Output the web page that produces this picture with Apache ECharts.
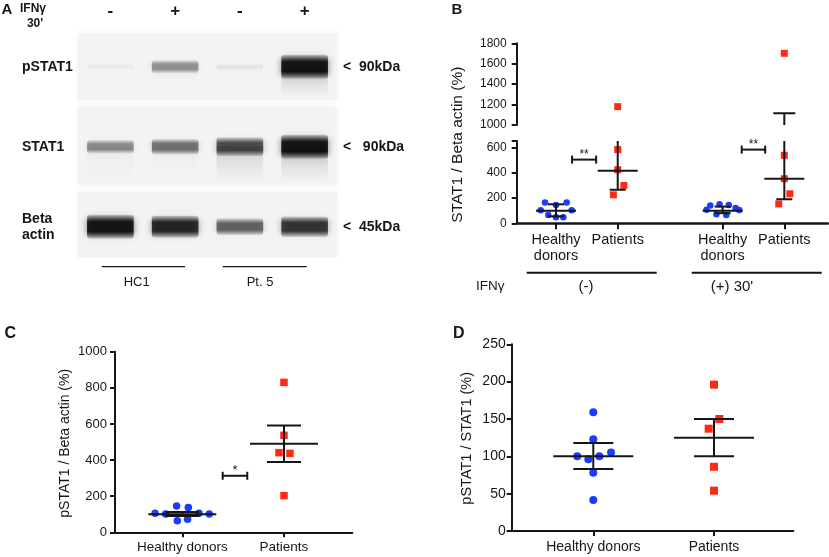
<!DOCTYPE html>
<html><head><meta charset="utf-8">
<script src="https://cdn.jsdelivr.net/npm/echarts@6/dist/echarts.min.js"></script>
<style>html,body{margin:0;padding:0;background:#fff}#c{width:829px;height:557px}</style>
</head><body><div id="c"></div>
<script>
// ================= DATA =================
// Panel A – western blot (relative band intensities)
const laneTreatment = ['-', '+', '-', '+'];
const blotRows = ['pSTAT1', 'STAT1', 'Beta\nactin'];
const blotSizes = ['<  90kDa', '<   90kDa', '<  45kDa'];
const pSTAT1Band = [0.04, 0.42, 0.07, 1.0];
const pSTAT1Smear = [0.0, 0.04, 0.02, 0.4];
const stat1Band = [0.45, 0.55, 0.72, 1.0];
const stat1Smear = [0.08, 0.06, 0.3, 0.4];
const actinBand = [1.0, 0.9, 0.62, 0.82];
const actinSmear = [0, 0, 0, 0];

// Panel B – STAT1 / Beta actin (%)
const bGroupPos = [1, 2, 3.7, 4.7];
const bGroupLabels = ['Healthy\ndonors', 'Patients', 'Healthy\ndonors', 'Patients'];
const bHealthyNegJitter = [-0.178, 0, 0.173, -0.248, 0.254, -0.125, 0, 0.118];
const bHealthyNegVals = [164, 145, 164, 103, 103, 66, 48, 48];
const bPatientNegJitter = [0, 0, 0, 0.1, -0.07];
const bPatientNegVals = [1180, 582, 423, 299, 225];
const bHealthyPosJitter = [-0.2, -0.05, 0.1, 0.21, -0.26, 0.27, -0.1, 0.06];
const bHealthyPosVals = [140, 150, 145, 120, 108, 105, 72, 65];
const bPatientPosJitter = [0, 0, 0, 0.09, -0.09];
const bPatientPosVals = [1702, 537, 352, 233, 153];
// [centre line, lower whisker, upper whisker]
const bHealthyNegBar = [100, 55, 150];
const bPatientNegBar = [415, 265, 700];
const bHealthyPosBar = [100, 80, 132];
const bPatientPosBar = [352, 190, 1115];
const bSigStarts = [1.26, 4.01];
const bSigEnds = [1.65, 4.39];
const bSigLevels = [503, 582];
const bSigMarks = ['**', '**'];

// Panel C – pSTAT1 / Beta actin (%)
const cGroupPos = [1, 2];
const cGroupLabels = ['Healthy donors', 'Patients'];
const cHealthyJitter = [-0.268, -0.164, -0.056, 0.059, -0.049, 0.052, 0.164, 0.265];
const cHealthyVals = [105, 101, 146, 138, 64, 72, 105, 101];
const cPatientJitter = [0, 0, -0.049, 0.059, 0];
const cPatientVals = [830, 537, 441, 437, 203];
const cHealthyBar = [100, 90, 112];
const cPatientBar = [490, 389, 592];
const cSigStarts = [1.397];
const cSigEnds = [1.639];
const cSigLevels = [313];
const cSigMarks = ['*'];

// Panel D – pSTAT1 / STAT1 (%)
const dGroupPos = [1, 2];
const dGroupLabels = ['Healthy donors', 'Patients'];
const dHealthyJitter = [0, 0, -0.133, -0.041, 0.05, 0.147, 0, 0];
const dHealthyVals = [159, 123, 100, 96, 100, 105, 78, 41.5];
const dPatientJitter = [0, 0.044, -0.044, 0, 0];
const dPatientVals = [196, 150, 137, 86, 54];
const dHealthyBar = [100, 83, 118];
const dPatientBar = [125, 100, 150];

// ================= CHART =================
const FONT = '"Liberation Sans", Arial, Helvetica, sans-serif';
const BLUE = '#1a3cff', RED = '#ff2a14', INK = '#161616';

const chart = echarts.init(document.getElementById('c'), null, {renderer: 'canvas'});

function pts(center, jitter, vals, filt) {
  const out = [];
  vals.forEach((v, i) => { if (!filt || filt(v)) out.push([center + jitter[i], v]); });
  return out;
}
function scatter(xi, yi, data, symbol, size, color) {
  return {type: 'scatter', xAxisIndex: xi, yAxisIndex: yi, data, symbol, symbolSize: size,
    itemStyle: {color, opacity: 1}, z: 3, silent: true, animation: false};
}
function errorBars(xi, yi, items, meanHalf, capHalf, yMin, yMax) {
  return {type: 'custom', xAxisIndex: xi, yAxisIndex: yi, z: 6, silent: true, clip: false, animation: false,
    data: items,
    renderItem(params, api) {
      const x = api.value(0), c = api.value(1), lo = api.value(2), hi = api.value(3);
      const clamp = v => Math.max(yMin, Math.min(yMax, v));
      const st = {stroke: INK, lineWidth: 2};
      const px = api.coord([x, yMin])[0];
      const ch = [];
      if (hi >= yMin && lo <= yMax) {
        const a = api.coord([x, clamp(lo)]), b = api.coord([x, clamp(hi)]);
        ch.push({type: 'line', shape: {x1: px, y1: a[1], x2: px, y2: b[1]}, style: st});
      }
      [lo, hi].forEach(v => {
        if (v >= yMin && v <= yMax) {
          const p = api.coord([x, v]);
          ch.push({type: 'line', shape: {x1: px - capHalf, y1: p[1], x2: px + capHalf, y2: p[1]}, style: st});
        }
      });
      if (c >= yMin && c <= yMax) {
        const p = api.coord([x, c]);
        ch.push({type: 'line', shape: {x1: px - meanHalf, y1: p[1], x2: px + meanHalf, y2: p[1]}, style: st});
      }
      return {type: 'group', children: ch};
    }};
}
function sigBrackets(xi, yi, starts, ends, levels, marks, fs) {
  return {type: 'custom', xAxisIndex: xi, yAxisIndex: yi, z: 6, silent: true, clip: false, animation: false,
    data: starts.map((s, i) => [s, ends[i], levels[i], i]),
    renderItem(params, api) {
      const a = api.coord([api.value(0), api.value(2)]);
      const b = api.coord([api.value(1), api.value(2)]);
      const st = {stroke: INK, lineWidth: 2};
      return {type: 'group', children: [
        {type: 'line', shape: {x1: a[0], y1: a[1], x2: b[0], y2: b[1]}, style: st},
        {type: 'line', shape: {x1: a[0], y1: a[1] - 4, x2: a[0], y2: a[1] + 4}, style: st},
        {type: 'line', shape: {x1: b[0], y1: b[1] - 4, x2: b[0], y2: b[1] + 4}, style: st},
        {type: 'text', x: (a[0] + b[0]) / 2, y: a[1] - 5, style: {text: marks[api.value(3)],
          font: `${fs}px ${FONT}`, fill: INK, align: 'center', verticalAlign: 'middle'}}
      ]};
    }};
}

// Blot bands
const bandData = [];
[[pSTAT1Band, pSTAT1Smear], [stat1Band, stat1Smear], [actinBand, actinSmear]].forEach(([b, s], r) =>
  b.forEach((v, l) => bandData.push([l, r, v, s[l]])));

const bandSeries = {
  type: 'custom', xAxisIndex: 0, yAxisIndex: 0, z: 2, silent: true, clip: false, animation: false,
  data: bandData,
  renderItem(params, api) {
    const lane = api.value(0), row = api.value(1), v = api.value(2), s = api.value(3);
    const c = api.coord([lane, row]);
    const w = api.size([1, 0])[0] * 0.72;
    const h = 5 + 19 * v;
    const ch = [];
    if (s > 0) {
      ch.push({type: 'rect', shape: {x: c[0] - w / 2, y: c[1], width: w, height: row === 0 ? 30 : 36},
        style: {fill: {type: 'linear', x: 0, y: 0, x2: 0, y2: 1, colorStops: [
          {offset: 0, color: `rgba(0,0,0,${0.4 * s})`}, {offset: 1, color: 'rgba(0,0,0,0)'}]},
          shadowBlur: 8, shadowColor: `rgba(0,0,0,${0.25 * s})`}});
    }
    ch.push({type: 'rect', shape: {x: c[0] - w / 2, y: c[1] - h / 2, width: w, height: h, r: 3},
      style: {fill: {type: 'linear', x: 0, y: 0, x2: 0, y2: 1, colorStops: [
        {offset: 0, color: `rgba(0,0,0,${0.15 * v})`},
        {offset: 0.3, color: `rgba(0,0,0,${0.85 * v})`},
        {offset: 0.7, color: `rgba(0,0,0,${0.85 * v})`},
        {offset: 1, color: `rgba(0,0,0,${0.15 * v})`}]},
        shadowBlur: 7, shadowColor: `rgba(0,0,0,${0.55 * v})`}});
    return {type: 'group', children: ch};
  }
};

const plainNum = v => String(v);
const tickLab = (size, margin) => ({fontFamily: FONT, fontSize: size, color: INK, margin, formatter: plainNum});
const axLine = {show: true, lineStyle: {color: INK, width: 2}};
const axTick = {show: true, length: 5, inside: false, lineStyle: {color: INK, width: 2}};
function findLabel(pos, labels) {
  return v => { const i = pos.findIndex(p => Math.abs(p - v) < 1e-6); return i >= 0 ? labels[i] : ''; };
}

const option = {
  animation: false,
  backgroundColor: '#fff',
  textStyle: {fontFamily: FONT},
  grid: [
    {left: 78, top: 26.7, width: 259, height: 240, outerBoundsMode: 'none'},
    {left: 516.7, top: 43.3, width: 311.3, height: 81.7, outerBoundsMode: 'none'},
    {left: 516.7, top: 141, width: 311.3, height: 82.3, outerBoundsMode: 'none'},
    {left: 115, top: 351.7, width: 237.3, height: 180.6, outerBoundsMode: 'none'},
    {left: 511.7, top: 344.3, width: 281.6, height: 186.7, outerBoundsMode: 'none'}
  ],
  xAxis: [
    {gridIndex: 0, type: 'category', position: 'top', data: laneTreatment, axisLine: {show: false},
      axisTick: {show: false}, splitLine: {show: false},
      axisLabel: {fontFamily: FONT, fontSize: 17, fontWeight: 'bold', color: INK, margin: 15, verticalAlign: 'middle'}},
    {gridIndex: 1, type: 'value', min: 0.363, max: 5.408, show: false},
    {gridIndex: 2, type: 'value', min: 0.363, max: 5.408, splitLine: {show: false},
      axisLine: {show: true, onZero: false, lineStyle: {color: INK, width: 2.5}},
      axisTick: {show: true, length: 6, lineStyle: {color: INK, width: 2}, customValues: bGroupPos},
      axisLabel: {fontFamily: FONT, fontSize: 14.5, color: INK, margin: 9, lineHeight: 16, customValues: bGroupPos, formatter: findLabel(bGroupPos, bGroupLabels)}},
    {gridIndex: 3, type: 'value', min: 0.338, max: 2.672, splitLine: {show: false},
      axisLine: {show: true, onZero: false, lineStyle: {color: INK, width: 2}},
      axisTick: {show: true, length: 5, lineStyle: {color: INK, width: 2}, customValues: cGroupPos},
      axisLabel: {fontFamily: FONT, fontSize: 13.5, color: INK, margin: 8, customValues: cGroupPos, formatter: findLabel(cGroupPos, cGroupLabels)}},
    {gridIndex: 4, type: 'value', min: 0.324, max: 2.657, splitLine: {show: false},
      axisLine: {show: true, onZero: false, lineStyle: {color: INK, width: 2}},
      axisTick: {show: true, length: 5, lineStyle: {color: INK, width: 2}, customValues: dGroupPos},
      axisLabel: {fontFamily: FONT, fontSize: 14, color: INK, margin: 9, customValues: dGroupPos, formatter: findLabel(dGroupPos, dGroupLabels)}}
  ],
  yAxis: [
    {gridIndex: 0, type: 'value', min: -0.5, max: 2.5, inverse: true, axisLine: {show: false},
      axisTick: {show: false}, splitLine: {show: false},
      axisLabel: {fontFamily: FONT, fontSize: 14, fontWeight: 'bold', color: INK, align: 'left', margin: 56,
        lineHeight: 16, customValues: [0, 1, 2], formatter: findLabel([0, 1, 2], blotRows)}},
    {gridIndex: 0, type: 'value', position: 'right', min: -0.5, max: 2.5, inverse: true, axisLine: {show: false},
      axisTick: {show: false}, splitLine: {show: false},
      axisLabel: {fontFamily: FONT, fontSize: 14, fontWeight: 'bold', color: INK, align: 'left', margin: 6,
        customValues: [0, 1, 2], formatter: findLabel([0, 1, 2], blotSizes)}},
    {gridIndex: 1, type: 'value', min: 1000, max: 1800, interval: 200, splitLine: {show: false},
      axisLine: axLine, axisTick: axTick, axisLabel: tickLab(12, 10)},
    {gridIndex: 2, type: 'value', min: 0, max: 650, interval: 200, splitLine: {show: false},
      axisLine: axLine, axisTick: axTick,
      axisLabel: {...tickLab(12, 10), formatter: v => (v % 200 === 0 ? String(v) : '')}},
    {gridIndex: 3, type: 'value', min: 0, max: 1000, interval: 200, splitLine: {show: false},
      axisLine: axLine, axisTick: axTick, axisLabel: tickLab(13, 8)},
    {gridIndex: 4, type: 'value', min: 0, max: 250, interval: 50, splitLine: {show: false},
      axisLine: axLine, axisTick: axTick, axisLabel: tickLab(14, 6)}
  ],
  series: [
    bandSeries,
    // Panel B lower segment
    scatter(2, 3, pts(bGroupPos[0], bHealthyNegJitter, bHealthyNegVals), 'circle', 6.5, BLUE),
    scatter(2, 3, pts(bGroupPos[1], bPatientNegJitter, bPatientNegVals, v => v <= 650), 'rect', 7, RED),
    scatter(2, 3, pts(bGroupPos[2], bHealthyPosJitter, bHealthyPosVals), 'circle', 6.5, BLUE),
    scatter(2, 3, pts(bGroupPos[3], bPatientPosJitter, bPatientPosVals, v => v <= 650), 'rect', 7, RED),
    // Panel B upper segment
    scatter(1, 2, pts(bGroupPos[1], bPatientNegJitter, bPatientNegVals, v => v >= 1000), 'rect', 7, RED),
    scatter(1, 2, pts(bGroupPos[3], bPatientPosJitter, bPatientPosVals, v => v >= 1000), 'rect', 7, RED),
    errorBars(2, 3, [[bGroupPos[0], ...bHealthyNegBar], [bGroupPos[1], ...bPatientNegBar],
      [bGroupPos[2], ...bHealthyPosBar], [bGroupPos[3], ...bPatientPosBar]], 20, 8, 0, 650),
    errorBars(1, 2, [[bGroupPos[1], ...bPatientNegBar], [bGroupPos[3], ...bPatientPosBar]], 20, 11, 1000, 1800),
    sigBrackets(2, 3, bSigStarts, bSigEnds, bSigLevels, bSigMarks, 12),
    // Panel C
    scatter(3, 4, pts(cGroupPos[0], cHealthyJitter, cHealthyVals), 'circle', 7.5, BLUE),
    scatter(3, 4, pts(cGroupPos[1], cPatientJitter, cPatientVals), 'rect', 7.5, RED),
    errorBars(3, 4, [[cGroupPos[0], ...cHealthyBar], [cGroupPos[1], ...cPatientBar]], 34, 17, 0, 1000),
    sigBrackets(3, 4, cSigStarts, cSigEnds, cSigLevels, cSigMarks, 13),
    // Panel D
    scatter(4, 5, pts(dGroupPos[0], dHealthyJitter, dHealthyVals), 'circle', 8, BLUE),
    scatter(4, 5, pts(dGroupPos[1], dPatientJitter, dPatientVals), 'rect', 8, RED),
    errorBars(4, 5, [[dGroupPos[0], ...dHealthyBar], [dGroupPos[1], ...dPatientBar]], 40, 20, 0, 250)
  ],
  graphic: {elements: [
    // blot membrane backgrounds
    {type: 'rect', z: -10, shape: {x: 78, y: 33, width: 259, height: 67}, style: {fill: '#f3f3f3', shadowBlur: 8, shadowColor: '#f3f3f3'}},
    {type: 'rect', z: -10, shape: {x: 78, y: 107, width: 259, height: 78}, style: {fill: '#f3f3f3', shadowBlur: 8, shadowColor: '#f3f3f3'}},
    {type: 'rect', z: -10, shape: {x: 78, y: 192, width: 259, height: 65}, style: {fill: '#f3f3f3', shadowBlur: 8, shadowColor: '#f3f3f3'}},
    // panel letters
    {type: 'text', x: 1.5, y: 10, style: {text: 'A', font: `bold 15px ${FONT}`, fill: INK, verticalAlign: 'middle'}},
    {type: 'text', x: 451.5, y: 10, style: {text: 'B', font: `bold 15px ${FONT}`, fill: INK, verticalAlign: 'middle'}},
    {type: 'text', x: 4.5, y: 334, style: {text: 'C', font: `bold 16px ${FONT}`, fill: INK, verticalAlign: 'middle'}},
    {type: 'text', x: 453, y: 334, style: {text: 'D', font: `bold 16px ${FONT}`, fill: INK, verticalAlign: 'middle'}},
    // panel A header
    {type: 'text', x: 33, y: 8.5, style: {text: 'IFNγ', font: `bold 12px ${FONT}`, fill: INK, align: 'center', verticalAlign: 'middle'}},
    {type: 'text', x: 35, y: 23.5, style: {text: "30'", font: `bold 12px ${FONT}`, fill: INK, align: 'center', verticalAlign: 'middle'}},
    {type: 'line', shape: {x1: 101.7, y1: 266.7, x2: 185, y2: 266.7}, style: {stroke: INK, lineWidth: 1.3}},
    {type: 'line', shape: {x1: 222.7, y1: 266.7, x2: 306.7, y2: 266.7}, style: {stroke: INK, lineWidth: 1.3}},
    {type: 'text', x: 136.7, y: 282, style: {text: 'HC1', font: `13px ${FONT}`, fill: INK, align: 'center', verticalAlign: 'middle'}},
    {type: 'text', x: 260, y: 282, style: {text: 'Pt. 5', font: `13px ${FONT}`, fill: INK, align: 'center', verticalAlign: 'middle'}},
    // panel B condition bars
    {type: 'line', shape: {x1: 526.7, y1: 272.7, x2: 656.7, y2: 272.7}, style: {stroke: INK, lineWidth: 2}},
    {type: 'line', shape: {x1: 691.7, y1: 272.7, x2: 821.7, y2: 272.7}, style: {stroke: INK, lineWidth: 2}},
    {type: 'text', x: 476, y: 286.5, style: {text: 'IFNγ', font: `13.5px ${FONT}`, fill: INK, verticalAlign: 'middle'}},
    {type: 'text', x: 586, y: 286.5, style: {text: '(-)', font: `15px ${FONT}`, fill: INK, align: 'center', verticalAlign: 'middle'}},
    {type: 'text', x: 732, y: 286.5, style: {text: "(+) 30'", font: `15px ${FONT}`, fill: INK, align: 'center', verticalAlign: 'middle'}},
    // y-axis titles
    {type: 'text', x: 457.7, y: 144.7, rotation: Math.PI / 2, style: {text: 'STAT1 / Beta actin (%)', font: `15.5px ${FONT}`, fill: INK, align: 'center', verticalAlign: 'middle'}},
    {type: 'text', x: 65, y: 443.3, rotation: Math.PI / 2, style: {text: 'pSTAT1 / Beta actin (%)', font: `14px ${FONT}`, fill: INK, align: 'center', verticalAlign: 'middle'}},
    {type: 'text', x: 466.7, y: 438.3, rotation: Math.PI / 2, style: {text: 'pSTAT1 / STAT1 (%)', font: `14.5px ${FONT}`, fill: INK, align: 'center', verticalAlign: 'middle'}}
  ]}
};
chart.setOption(option);
</script>
</body></html>
